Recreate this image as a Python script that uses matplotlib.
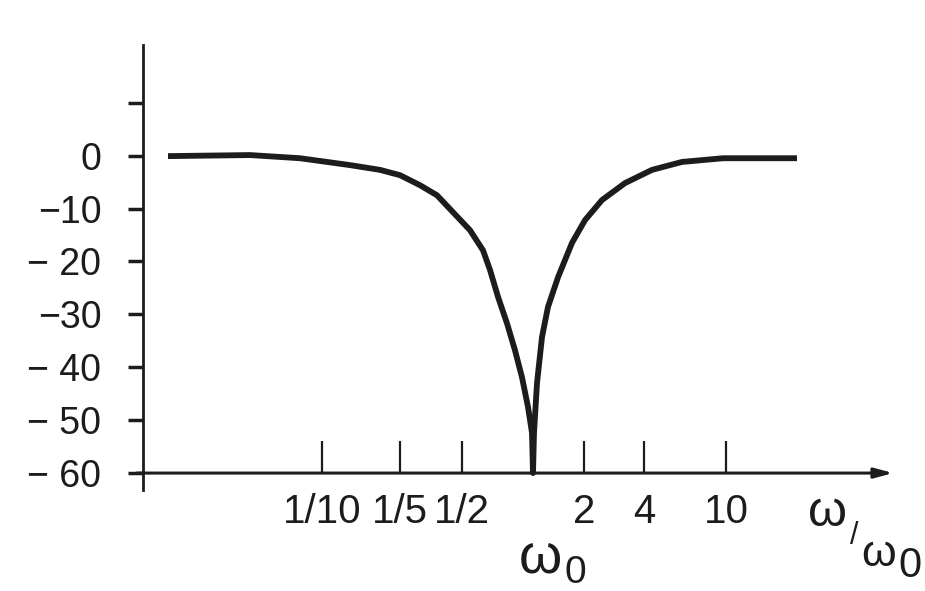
import numpy as np
import matplotlib
matplotlib.use("Agg")
import matplotlib.pyplot as plt

# curve: x = visual position (omega0 at 0, one decade ~ 1), y = dB
curve_x = [-1.825, -1.415, -1.165, -0.915, -0.765, -0.665, -0.565, -0.48, -0.4,
           -0.315, -0.25, -0.215, -0.175, -0.13, -0.09, -0.055, -0.025, -0.005, 0.0,
           0.005, 0.02, 0.045, 0.075, 0.125, 0.195, 0.26, 0.345, 0.46, 0.595,
           0.745, 0.95, 1.32]
curve_db = [-0.1, 0.1, -0.5, -1.8, -2.7, -3.7, -5.6, -7.5, -10.7,
            -14.1, -17.9, -21.6, -26.7, -31.7, -36.8, -41.9, -47.5, -52.4, -60.0,
            -52.4, -43.0, -34.3, -28.6, -23.0, -16.5, -12.2, -8.4, -5.2, -2.7,
            -1.2, -0.5, -0.5]

# axis ticks
xtick_pos = [-1.055, -0.665, -0.355, 0.0, 0.255, 0.555, 0.965]
xtick_lab = ["1/10", "1/5", "1/2", "", "2", "4", "10"]
ytick_pos = [10, 0, -10, -20, -30, -40, -50, -60]
ytick_lab = ["", "0", "\u221210", "\u2212 20", "\u221230", "\u2212 40", "\u2212 50", "\u2212 60"]

ink = "#1c1c1c"
plt.rcParams['font.family'] = ['Liberation Sans', 'DejaVu Sans']

fig = plt.figure(figsize=(9.25, 5.91), dpi=100)
ax = fig.add_axes([143/925, 1-490/591, (893-143)/925, (490-45)/591])
ax.set_xlim(-1.95, 1.8)
ax.set_ylim(-63.2, 20.9)

ax.plot(curve_x, curve_db, color=ink, lw=4.2, solid_capstyle='butt', solid_joinstyle='round')

# axes
for s in ["top", "right", "bottom"]:
    ax.spines[s].set_visible(False)
ax.spines["left"].set_linewidth(2)
ax.spines["left"].set_color(ink)
ax.spines["bottom"].set_position(("data", -60))

ax.annotate("", xy=(1.8, -60), xytext=(-1.98, -60),
            arrowprops=dict(arrowstyle="-|>,head_length=1.1,head_width=0.3", color=ink, lw=2.2,
                            shrinkA=0, shrinkB=0))

ax.set_yticks(ytick_pos)
ax.set_yticklabels(ytick_lab)
ax.tick_params(axis='y', direction='out', length=11, width=2.5, color=ink, pad=19,
               labelsize=27, labelcolor=ink)

ax.set_xticks(xtick_pos)
ax.set_xticklabels(xtick_lab)
ax.tick_params(axis='x', direction='in', length=23, width=1.6, color=ink, pad=14,
               labelsize=29, labelcolor=ink)

# omega_0 below the minimum
fig.text(540/925, 1-574/591, "\u03c9", fontsize=40, color=ink, ha='center', va='baseline')
fig.text(565/925, 1-583/591, "0", fontsize=28, color=ink, ha='left', va='baseline')

# axis name omega / omega_0
fig.text(828/925, 1-526/591, "\u03c9", fontsize=36, color=ink, ha='center', va='baseline')
fig.text(850/925, 1-544/591, "/", fontsize=22, color=ink, ha='left', va='baseline')
fig.text(879/925, 1-566/591, "\u03c9", fontsize=32, color=ink, ha='center', va='baseline')
fig.text(898/925, 1-577/591, "0", fontsize=30, color=ink, ha='left', va='baseline')

fig.savefig("out.png", dpi=100, facecolor="white")
